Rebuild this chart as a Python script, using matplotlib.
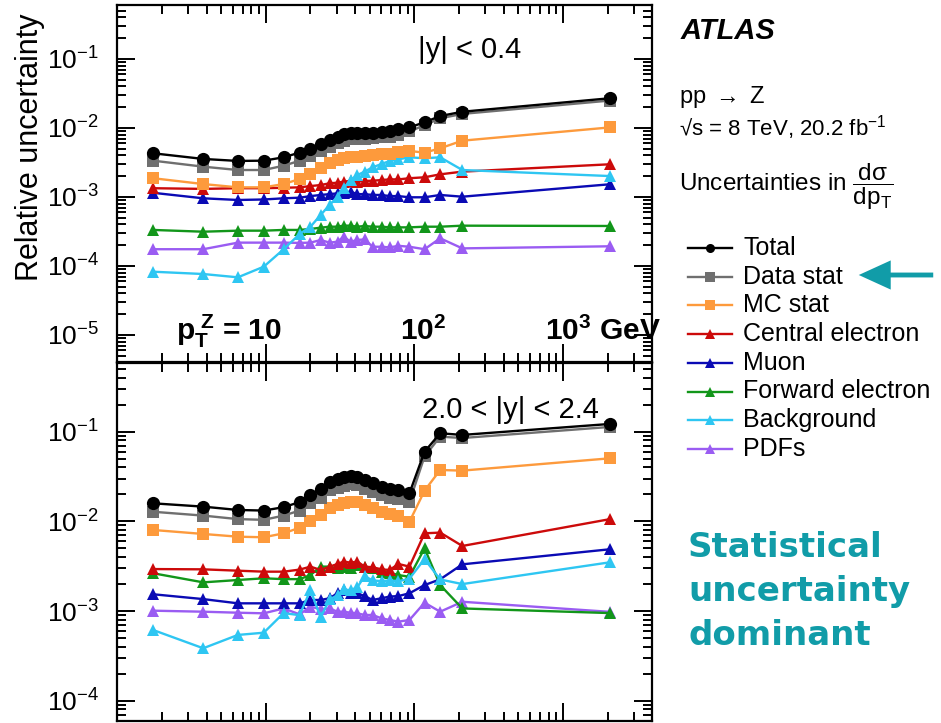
import numpy as np
import matplotlib
matplotlib.use("Agg")
import matplotlib.pyplot as plt
from matplotlib.lines import Line2D
from matplotlib.patches import FancyArrowPatch
from matplotlib.ticker import LogLocator, NullFormatter

plt.rcParams['font.family'] = ['Liberation Sans', 'DejaVu Sans']
plt.rcParams['mathtext.fontset'] = 'custom'
plt.rcParams['mathtext.rm'] = 'Liberation Sans'
plt.rcParams['mathtext.it'] = 'Liberation Sans:italic'
plt.rcParams['mathtext.bf'] = 'Liberation Sans:bold'

# pT bin positions (GeV)
pt = [1.75, 3.8, 6.5, 9.7, 13.2, 16.9, 20.0, 23.4, 26.9, 30.4, 33.4, 37.2,
      41.4, 46.2, 52.3, 60.1, 68.0, 78.1, 92.6, 117, 149, 210, 2070]

# |y| < 0.4
total_c = [4.3e-3, 3.56e-3, 3.33e-3, 3.36e-3, 3.76e-3, 4.4e-3, 4.97e-3, 5.86e-3, 6.7e-3, 7.48e-3, 8.1e-3, 8.38e-3,
           8.38e-3, 8.38e-3, 8.45e-3, 8.83e-3, 8.9e-3, 9.57e-3, 1.02e-2, 1.21e-2, 1.49e-2, 1.72e-2, 2.7e-2]
datastat_c = [3.36e-3, 2.75e-3, 2.46e-3, 2.46e-3, 2.84e-3, 3.35e-3, 3.95e-3, 4.6e-3, 5.36e-3, 6.0e-3, 6.55e-3, 6.86e-3,
              6.9e-3, 7.0e-3, 7.07e-3, 7.33e-3, 7.48e-3, 7.93e-3, 8.9e-3, 1.1e-2, 1.38e-2, 1.6e-2, 2.5e-2]
mcstat_c = [1.87e-3, 1.54e-3, 1.38e-3, 1.38e-3, 1.54e-3, 1.82e-3, 2.13e-3, 2.61e-3, 3.08e-3, 3.44e-3, 3.71e-3, 3.84e-3,
            3.84e-3, 3.93e-3, 4.06e-3, 4.2e-3, 4.2e-3, 4.54e-3, 4.65e-3, 4.39e-3, 5.08e-3, 6.55e-3, 1.02e-2]
central_c = [1.34e-3, 1.31e-3, 1.34e-3, 1.34e-3, 1.36e-3, 1.38e-3, 1.44e-3, 1.49e-3, 1.58e-3, 1.61e-3, 1.67e-3, 1.71e-3,
             1.67e-3, 1.71e-3, 1.72e-3, 1.76e-3, 1.8e-3, 1.8e-3, 1.87e-3, 1.93e-3, 2.13e-3, 2.33e-3, 2.98e-3]
muon_c = [1.15e-3, 9.57e-4, 9.05e-4, 9.2e-4, 9.57e-4, 9.77e-4, 1.03e-3, 1.07e-3, 1.10e-3, 1.13e-3, 1.15e-3, 1.19e-3,
          1.10e-3, 1.10e-3, 1.07e-3, 1.07e-3, 1.03e-3, 1.03e-3, 9.9e-4, 9.9e-4, 1.07e-3, 1.01e-3, 1.53e-3]
fwd_c = [3.33e-4, 3.14e-4, 3.25e-4, 3.25e-4, 3.33e-4, 3.33e-4, 3.44e-4, 3.59e-4, 3.71e-4, 3.71e-4, 3.84e-4, 3.84e-4,
         3.71e-4, 3.8e-4, 3.71e-4, 3.71e-4, 3.63e-4, 3.63e-4, 3.63e-4, 3.71e-4, 3.71e-4, 3.84e-4, 3.8e-4]
bkg_c = [8.26e-5, 7.65e-5, 6.85e-5, 9.77e-5, 1.75e-4, 2.9e-4, 3.71e-4, 5.49e-4, 7.66e-4, 1.01e-3, 1.34e-3, 1.76e-3,
         2.08e-3, 2.33e-3, 2.69e-3, 3.01e-3, 3.32e-3, 3.52e-3, 3.76e-3, 3.64e-3, 3.76e-3, 2.46e-3, 2.01e-3]
pdf_c = [1.75e-4, 1.75e-4, 2.18e-4, 2.18e-4, 2.18e-4, 2.16e-4, 2.18e-4, 2.38e-4, 2.18e-4, 2.25e-4, 2.66e-4, 2.25e-4,
         2.38e-4, 2.43e-4, 1.9e-4, 1.9e-4, 1.86e-4, 1.96e-4, 1.9e-4, 1.75e-4, 2.52e-4, 1.8e-4, 1.93e-4]

# 2.0 < |y| < 2.4
total_f = [1.59e-2, 1.46e-2, 1.34e-2, 1.32e-2, 1.44e-2, 1.64e-2, 1.97e-2, 2.28e-2, 2.77e-2, 2.95e-2, 3.10e-2, 3.21e-2,
           3.15e-2, 2.90e-2, 2.66e-2, 2.44e-2, 2.28e-2, 2.24e-2, 2.06e-2, 5.98e-2, 9.6e-2, 9.2e-2, 0.122]
datastat_f = [1.28e-2, 1.16e-2, 1.06e-2, 1.04e-2, 1.16e-2, 1.32e-2, 1.59e-2, 1.84e-2, 2.22e-2, 2.38e-2, 2.5e-2, 2.58e-2,
              2.52e-2, 2.32e-2, 2.13e-2, 1.95e-2, 1.82e-2, 1.79e-2, 1.65e-2, 5.3e-2, 8.8e-2, 8.5e-2, 0.113]
mcstat_f = [8.02e-3, 7.24e-3, 6.75e-3, 6.65e-3, 7.36e-3, 8.5e-3, 1.0e-2, 1.18e-2, 1.40e-2, 1.52e-2, 1.62e-2, 1.66e-2,
            1.66e-2, 1.52e-2, 1.40e-2, 1.28e-2, 1.20e-2, 1.15e-2, 9.9e-3, 2.2e-2, 3.74e-2, 3.68e-2, 5.05e-2]
central_f = [2.94e-3, 2.92e-3, 2.82e-3, 2.75e-3, 2.75e-3, 2.9e-3, 3.13e-3, 2.87e-3, 3.13e-3, 3.35e-3, 3.56e-3, 3.47e-3,
             3.56e-3, 3.13e-3, 3.08e-3, 2.92e-3, 2.87e-3, 3.35e-3, 3.13e-3, 7.36e-3, 7.5e-3, 5.32e-3, 1.06e-2]
muon_f = [1.54e-3, 1.36e-3, 1.22e-3, 1.22e-3, 1.22e-3, 1.22e-3, 1.33e-3, 1.33e-3, 1.39e-3, 1.58e-3, 1.72e-3, 1.58e-3,
          1.58e-3, 1.47e-3, 1.33e-3, 1.39e-3, 1.45e-3, 1.47e-3, 1.58e-3, 1.95e-3, 2.26e-3, 3.32e-3, 4.89e-3]
fwd_f = [2.64e-3, 2.09e-3, 2.22e-3, 2.32e-3, 2.27e-3, 2.27e-3, 2.52e-3, 3.13e-3, 3.13e-3, 3.0e-3, 3.13e-3, 3.0e-3,
         3.27e-3, 3.13e-3, 3.0e-3, 2.75e-3, 2.68e-3, 2.52e-3, 2.41e-3, 5.01e-3, 1.95e-3, 1.07e-3, 9.5e-4]
bkg_f = [6.15e-4, 3.85e-4, 5.42e-4, 5.74e-4, 9.5e-4, 9.0e-4, 1.72e-3, 8.5e-4, 1.35e-3, 1.5e-3, 1.75e-3, 1.7e-3,
         1.85e-3, 2.45e-3, 2.2e-3, 2.15e-3, 2.2e-3, 2.15e-3, 2.3e-3, 3.8e-3, 2.25e-3, 2.0e-3, 3.5e-3]
pdf_f = [1.01e-3, 9.84e-4, 9.59e-4, 9.44e-4, 1.07e-3, 9.2e-4, 1.12e-3, 1.05e-3, 1.07e-3, 9.84e-4, 9.84e-4, 9.59e-4,
         9.44e-4, 9.04e-4, 9.04e-4, 8.31e-4, 7.96e-4, 7.62e-4, 7.96e-4, 1.24e-3, 9.84e-4, 1.27e-3, 9.8e-4]

names = ["Total", "Data stat", "MC stat", "Central electron", "Muon", "Forward electron", "Background", "PDFs"]
colors = ["#000000", "#6f6f6f", "#fd9a3c", "#cc0a0a", "#0a0ab4", "#12961a", "#2ec6f2", "#9a5cf2"]
markers = ["o", "s", "s", "^", "^", "^", "^", "^"]
msizes = [9.5, 8.5, 8.5, 9, 9, 9, 9, 9]
zorders = [10, 9, 8, 5, 4, 3, 6, 2]

central = [total_c, datastat_c, mcstat_c, central_c, muon_c, fwd_c, bkg_c, pdf_c]
forward = [total_f, datastat_f, mcstat_f, central_f, muon_f, fwd_f, bkg_f, pdf_f]

W, H = 941, 723
fig = plt.figure(figsize=(W / 100, H / 100), dpi=100)

def px(x0, y0, x1, y1):
    return [x0 / W, 1 - y1 / H, (x1 - x0) / W, (y1 - y0) / H]

ax1 = fig.add_axes(px(117, 5, 652, 362))
ax2 = fig.add_axes(px(117, 363, 652, 721))

for ax, data in [(ax1, central), (ax2, forward)]:
    for vals, c, m, ms, z in zip(data, colors, markers, msizes, zorders):
        ax.plot(pt, vals, color=c, marker=m, markersize=ms, linewidth=1.7,
                markeredgewidth=0, zorder=z)
    ax.set_xscale("log")
    ax.set_yscale("log")
    ax.set_xlim(1, 3960)
    ax.xaxis.set_minor_locator(LogLocator(base=10, subs=np.arange(2, 10), numticks=100))
    ax.yaxis.set_minor_locator(LogLocator(base=10, subs=np.arange(2, 10), numticks=100))
    ax.xaxis.set_minor_formatter(NullFormatter())
    ax.yaxis.set_minor_formatter(NullFormatter())
    ax.tick_params(which="both", direction="in", top=True, right=True, width=1.4,
                   labelbottom=False, labelsize=19, pad=13)
    ax.tick_params(which="major", length=13)
    ax.tick_params(which="minor", length=6.5)
    for s in ax.spines.values():
        s.set_linewidth(1.6)

ax1.set_yticks([1e-5, 1e-4, 1e-3, 1e-2, 1e-1])
ax2.set_yticks([1e-4, 1e-3, 1e-2, 1e-1])
ax1.set_ylim(4.06e-6, 0.606)
ax2.set_ylim(5.95e-5, 0.583)

def ftext(x, y, s, **kw):
    fig.text(x / W, 1 - y / H, s, **kw)

ftext(30, 147, "Relative uncertainty", rotation=90, ha="center", va="center", fontsize=22)
ftext(470, 50, "|y| < 0.4", ha="center", va="center", fontsize=21)
ftext(510, 410, "2.0 < |y| < 2.4", ha="center", va="center", fontsize=21)

ftext(282, 340, r"$\mathbf{p}_\mathbf{T}^{\ \mathbf{Z}}$ = 10", ha="right", va="baseline",
      fontsize=21.5, fontweight="bold")
ftext(400, 340, r"10$^\mathbf{2}$", ha="left", va="baseline", fontsize=21.5, fontweight="bold")
ftext(545, 340, r"10$^\mathbf{3}$ GeV", ha="left", va="baseline", fontsize=21.5, fontweight="bold")

ftext(681, 31, "ATLAS", ha="left", va="center", fontsize=21, fontweight="bold", style="italic")
ftext(679, 97, r"pp $\rightarrow$ Z", ha="left", va="center", fontsize=17)
ftext(679, 128, "√s = 8 TeV, 20.2 fb$^{-1}$", ha="left", va="center", fontsize=16)
ftext(679, 191, r"Uncertainties in $\mathregular{\dfrac{d\sigma}{dp_T}}$", ha="left", va="baseline", fontsize=17.5)

# legend drawn by hand
for i, (n, c, m) in enumerate(zip(names, colors, markers)):
    y = 1 - (248 + i * 28.7) / H
    fig.add_artist(Line2D([688 / W, 710 / W, 732 / W], [y, y, y], color=c, linewidth=1.7,
                          marker=m, markersize=6.5, markeredgewidth=0, markevery=[1]))
    fig.text(743 / W, y, n, ha="left", va="center", fontsize=18)

teal = "#119ca8"
arrow = FancyArrowPatch((936 / W, 1 - 275 / H), (856 / W, 1 - 275 / H), transform=fig.transFigure,
                        arrowstyle="simple,head_length=2.3,head_width=2.1,tail_width=0.35",
                        mutation_scale=10, color=teal, linewidth=0)
fig.add_artist(arrow)

for y, s in [(557, "Statistical"), (601, "uncertainty"), (645, "dominant")]:
    ftext(688, y, s, ha="left", va="baseline", fontsize=24.5, fontweight="bold",
          color=teal, family="DejaVu Sans")

fig.savefig("out.png", dpi=100)
